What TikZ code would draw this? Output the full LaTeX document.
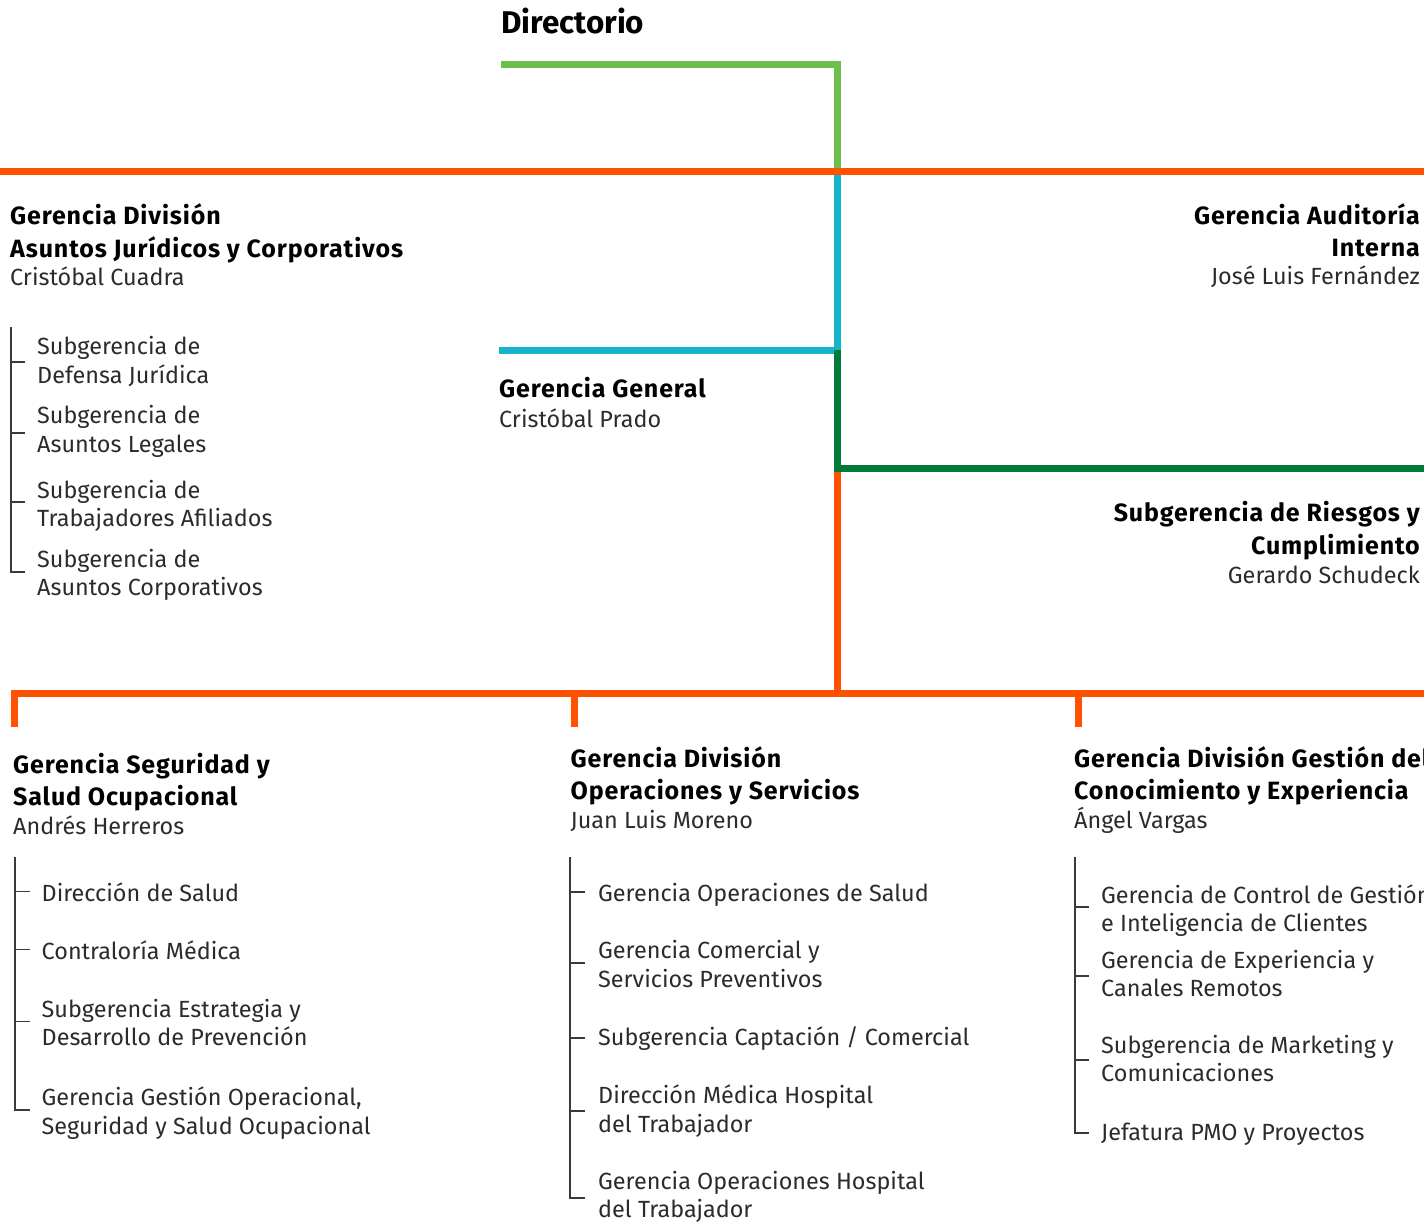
\documentclass[tikz,border=0pt]{standalone}
\usepackage{fontspec}
\setmainfont{Fira Sans}
\newfontfamily\hdfont[LetterSpace=3.5]{Fira Sans}
\definecolor{cgreen}{HTML}{6CBF4A}
\definecolor{corange}{HTML}{FF5200}
\definecolor{ccyan}{HTML}{15B4CC}
\definecolor{cdgreen}{HTML}{007A3A}
\definecolor{ctext}{HTML}{2B2B2B}
\definecolor{ctree}{HTML}{3A3A3A}
\begin{document}
\begin{tikzpicture}[x=1pt,y=-1pt,
  bar/.style={line width=7pt, line join=miter},
  tree/.style={line width=1.4pt, draw=ctree},
  hd/.style={font=\hdfont\bfseries\fontsize{25}{32.5}\selectfont, text=black, inner sep=0pt, anchor=base west, align=left},
  hdr/.style={hd, anchor=base east, align=right},
  nm/.style={font=\fontsize{23.4}{28.5}\selectfont, text=ctext, inner sep=0pt, anchor=base west, align=left},
  nmr/.style={nm, anchor=base east, align=right},
  item/.style={nm}
]
\useasboundingbox (0,0) rectangle (1424,1222);
\clip (0,0) rectangle (1424,1222);

% junctions
\coordinate (gA) at (501,65);
\coordinate (J0) at (837.5,65);
\coordinate (J1) at (837.5,171.5);
\coordinate (J2) at (837.5,350.5);
\coordinate (cA) at (499,350.5);
\coordinate (J3) at (837.5,468.5);
\coordinate (dR) at (1424,468.5);
\coordinate (J4) at (837.5,693.5);
\coordinate (oL) at (0,171.5);
\coordinate (oR) at (1424,171.5);
\coordinate (bL) at (14,727);
\coordinate (bR) at (1424,693.5);
\coordinate (bM) at (574,727);
\coordinate (bK) at (1078,727);

% coloured bars
\draw[bar, cgreen] (gA) -- (J0) -- (J1);
\draw[bar, ccyan] (J1) -- (J2) -- (cA);
\draw[bar, corange] (J3) -- (J4);
\draw[bar, cdgreen] (J2) -- (J3) -- (dR);
\draw[bar, corange] (oL) -- (oR);
\draw[bar, corange] (bL) |- (bR);
\draw[bar, corange] (bM) -- (bM |- bR);
\draw[bar, corange] (bK) -- (bK |- bR);

% top texts (multi-line nodes are placed by the baseline of their last line)
\node[hd, font=\bfseries\fontsize{31.4}{36}\selectfont] (dir) at (501,33.3) {Directorio};
\node[hd] (jur) at (10,257.5) {Gerencia División\\Asuntos Jurídicos y Corporativos};
\node[nm] (jurN) at (10,285.5) {Cristóbal Cuadra};
\node[hdr] (aud) at (1420,257) {Gerencia Auditoría\\Interna};
\node[nmr] (audN) at (1420,285) {José Luis Fernández};
\node[hd] (gg) at (499,398) {Gerencia General};
\node[nm] (ggN) at (499,427) {Cristóbal Prado};
\node[hdr] (rie) at (1420,554) {Subgerencia de Riesgos y\\Cumplimiento};
\node[nmr] (rieN) at (1420,583) {Gerardo Schudeck};

% left tree
\node[item] (j1) at (37,383.5) {Subgerencia de\\Defensa Jurídica};
\node[item] (j2) at (37,452) {Subgerencia de\\Asuntos Legales};
\node[item] (j3) at (37,526.5) {Subgerencia de\\Trabajadores Afiliados};
\node[item] (j4) at (37,595.5) {Subgerencia de\\Asuntos Corporativos};
\coordinate (jT) at (11,327);
\coordinate (jB) at (11,572);
\draw[tree] (jT) -- (jB) -- ++(14,0);
\draw[tree] (11,362) -- ++(14,0);
\draw[tree] (11,433) -- ++(14,0);
\draw[tree] (11,502) -- ++(14,0);

% bottom headings
\node[hd] (seg) at (13,805.5) {Gerencia Seguridad y\\Salud Ocupacional};
\node[nm] (segN) at (13,834) {Andrés Herreros};
\node[hd] (ops) at (570.5,799.5) {Gerencia División\\Operaciones y Servicios};
\node[nm] (opsN) at (570.5,828.5) {Juan Luis Moreno};
\node[hd] (con) at (1074,799.5) {Gerencia División Gestión del\\Conocimiento y Experiencia};
\node[nm] (conN) at (1074,828.5) {Ángel Vargas};

% bottom-left tree
\node[item] (s1) at (41.5,901.5) {Dirección de Salud};
\node[item] (s2) at (41.5,959.3) {Contraloría Médica};
\node[item] (s3) at (41.5,1045.5) {Subgerencia Estrategia y\\Desarrollo de Prevención};
\node[item] (s4) at (41.5,1134) {Gerencia Gestión Operacional,\\Seguridad y Salud Ocupacional};
\coordinate (sT) at (15,857);
\coordinate (sB) at (15,1110);
\draw[tree] (sT) -- (sB) -- ++(15,0);
\draw[tree] (15,891.7) -- ++(15,0);
\draw[tree] (15,949.3) -- ++(15,0);
\draw[tree] (15,1021.7) -- ++(15,0);

% middle tree
\node[item] (o1) at (598,901.5) {Gerencia Operaciones de Salud};
\node[item] (o2) at (598,987) {Gerencia Comercial y\\Servicios Preventivos};
\node[item] (o3) at (598,1045) {Subgerencia Captación / Comercial};
\node[item] (o4) at (598,1132) {Dirección Médica Hospital\\del Trabajador};
\node[item] (o5) at (598,1217.5) {Gerencia Operaciones Hospital\\del Trabajador};
\coordinate (oT) at (570,857);
\coordinate (oB) at (570,1198);
\draw[tree] (oT) -- (oB) -- ++(15,0);
\draw[tree] (570,892) -- ++(15,0);
\draw[tree] (570,963) -- ++(15,0);
\draw[tree] (570,1038) -- ++(15,0);
\draw[tree] (570,1111) -- ++(15,0);

% right tree
\node[item] (k1) at (1101,931.5) {Gerencia de Control de Gestión\\e Inteligencia de Clientes};
\node[item] (k2) at (1101,996.5) {Gerencia de Experiencia y\\Canales Remotos};
\node[item] (k3) at (1101,1081.5) {Subgerencia de Marketing y\\Comunicaciones};
\node[item] (k4) at (1101,1140) {Jefatura PMO y Proyectos};
\coordinate (kT) at (1075,857);
\coordinate (kB) at (1075,1133);
\draw[tree] (kT) -- (kB) -- ++(14,0);
\draw[tree] (1075,907) -- ++(14,0);
\draw[tree] (1075,976) -- ++(14,0);
\draw[tree] (1075,1060) -- ++(14,0);
\end{tikzpicture}
\end{document}
